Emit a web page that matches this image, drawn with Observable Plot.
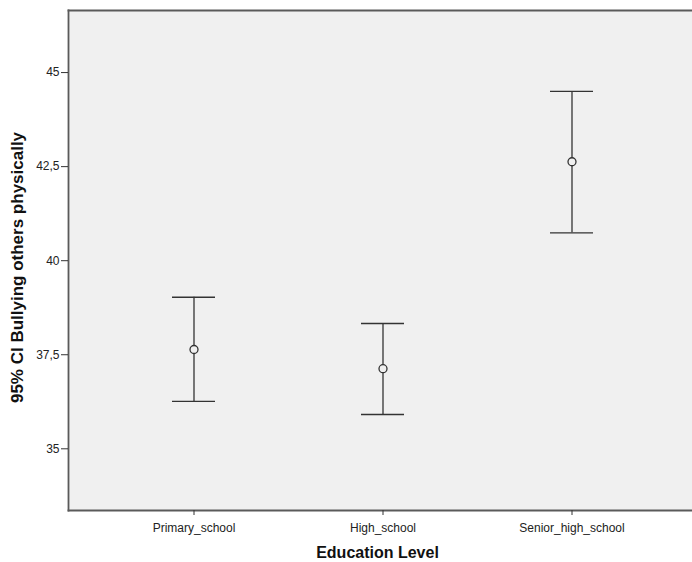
<!DOCTYPE html>
<html>
<head>
<meta charset="utf-8">
<script src="https://cdn.jsdelivr.net/npm/d3@7"></script>
<script src="https://cdn.jsdelivr.net/npm/@observablehq/plot@0.6"></script>
<style>
  html, body { margin: 0; padding: 0; background: #fff; overflow: hidden; }
  #chart { width: 692px; height: 562px; }
</style>
</head>
<body>
<div id="chart"></div>
<script>
const categories = ["Primary_school", "High_school", "Senior_high_school"];
const means = [37.64, 37.13, 42.63];
const lower = [36.26, 35.91, 40.74];
const upper = [39.03, 38.33, 44.50];
const yTicks = [35, 37.5, 40, 42.5, 45];
const yDomain = [33.36, 46.65];
const xLabel = "Education Level";
const yLabel = "95% CI Bullying others physically";

const data = categories.map((c, i) => ({cat: c, mean: means[i], lo: lower[i], hi: upper[i]}));
const font = "'Liberation Sans', Arial, sans-serif";
const ink = "#333";

const chart = Plot.plot({
  width: 692,
  height: 562,
  marginLeft: 68,
  marginRight: 0,
  marginTop: 10,
  marginBottom: 52,
  style: {fontFamily: font, background: "#fff", overflow: "hidden"},
  x: {type: "band", domain: categories, range: [68, 697], paddingInner: 0.773, paddingOuter: 0.546},
  y: {domain: yDomain},
  marks: [
    Plot.frame({fill: "#f0f0f0", stroke: null}),
    Plot.frame({anchor: "left", stroke: "#5a5a5a", strokeWidth: 1.8}),
    Plot.frame({anchor: "top", stroke: "#5a5a5a", strokeWidth: 1.8}),
    Plot.frame({anchor: "bottom", stroke: "#5a5a5a", strokeWidth: 1.8}),
    Plot.axisY({ticks: yTicks, tickSize: 7, tickPadding: 2, fontSize: 12, stroke: "#333",
      fill: "#222", label: null, tickFormat: d => String(d).replace(".", ",")}),
    Plot.axisX({tickSize: 5, tickPadding: 8, fontSize: 12, stroke: "#333", fill: "#222", label: null}),
    Plot.ruleX(data, {x: "cat", y1: "lo", y2: "hi", stroke: ink, strokeWidth: 1.3}),
    Plot.tickY(data, {x: "cat", y: "hi", stroke: ink, strokeWidth: 1.4}),
    Plot.tickY(data, {x: "cat", y: "lo", stroke: ink, strokeWidth: 1.4}),
    Plot.dot(data, {x: "cat", y: "mean", r: 4, stroke: ink, strokeWidth: 1.3, fill: "#f0f0f0"}),
    Plot.text([xLabel], {frameAnchor: "bottom", dy: 42.5, dx: -3, lineAnchor: "middle",
      fontSize: 16, fontWeight: "bold", fill: "#111"}),
    Plot.text([yLabel], {frameAnchor: "left", dx: -51, dy: 7, rotate: -90, textAnchor: "middle",
      lineAnchor: "middle", fontSize: 17, fontWeight: "bold", fill: "#111"})
  ]
});
document.getElementById("chart").appendChild(chart);
</script>
</body>
</html>
